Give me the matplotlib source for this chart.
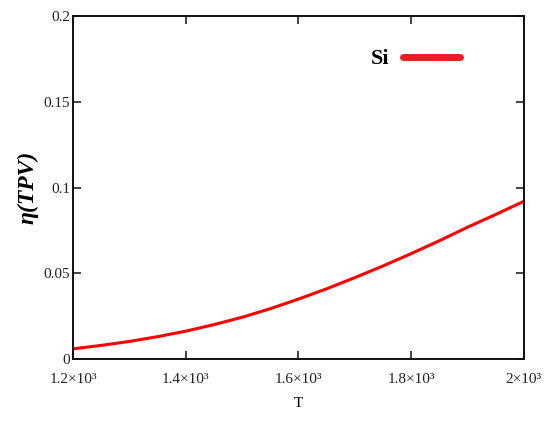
import matplotlib
matplotlib.use('Agg')
import matplotlib.pyplot as plt

# efficiency of the TPV cell vs temperature
T = [1200, 1250, 1300, 1350, 1400, 1450, 1500, 1550, 1600,
     1650, 1700, 1750, 1800, 1850, 1900, 1950, 2000]
eta = [0.0060, 0.0080, 0.0103, 0.0131, 0.0163, 0.0201, 0.0244, 0.0294, 0.0350,
       0.0410, 0.0475, 0.0543, 0.0615, 0.0690, 0.0769, 0.0843, 0.0920]

x_ticks = [1200, 1400, 1600, 1800, 2000]
x_labels = ['1.2×10³', '1.4×10³', '1.6×10³', '1.8×10³', '2×10³']
y_ticks = [0, 0.05, 0.1, 0.15, 0.2]
y_labels = ['0', '0.05', '0.1', '0.15', '0.2']

plt.rcParams['font.family'] = ['Liberation Serif', 'DejaVu Serif']

fig = plt.figure(figsize=(5.45, 4.26), dpi=100)
ax = fig.add_axes([0.134, 0.157, 0.827, 0.805])

ax.plot(T, eta, color='#ff0000', linewidth=2.2, label='Si')

ax.set_xlim(1200, 2000)
ax.set_ylim(0, 0.2)
ax.set_xticks(x_ticks)
ax.set_xticklabels(x_labels)
ax.set_yticks(y_ticks)
ax.set_yticklabels(y_labels)

ax.tick_params(direction='in', length=6, width=1.2, top=True, right=True,
               labelsize=11, colors='#222222')
ax.tick_params(axis='x', pad=10)
ax.tick_params(axis='y', pad=2)
for s in ax.spines.values():
    s.set_linewidth(1.4)
    s.set_color('#111111')

ax.set_xlabel('T', fontsize=11, labelpad=8)
ax.set_ylabel('η(TPV)', fontsize=17, fontweight='bold', fontstyle='italic', labelpad=4)

leg = ax.legend(loc='center', bbox_to_anchor=(0.76, 0.875), frameon=False,
                markerfirst=False, handlelength=2.6, handletextpad=0.6,
                prop={'family': 'Liberation Serif', 'weight': 'bold', 'size': 16})
for ln in leg.get_lines():
    ln.set_linewidth(5)
    ln.set_color('#ee1c25')
    ln.set_solid_capstyle('round')

fig.savefig('out.png', dpi=100)
